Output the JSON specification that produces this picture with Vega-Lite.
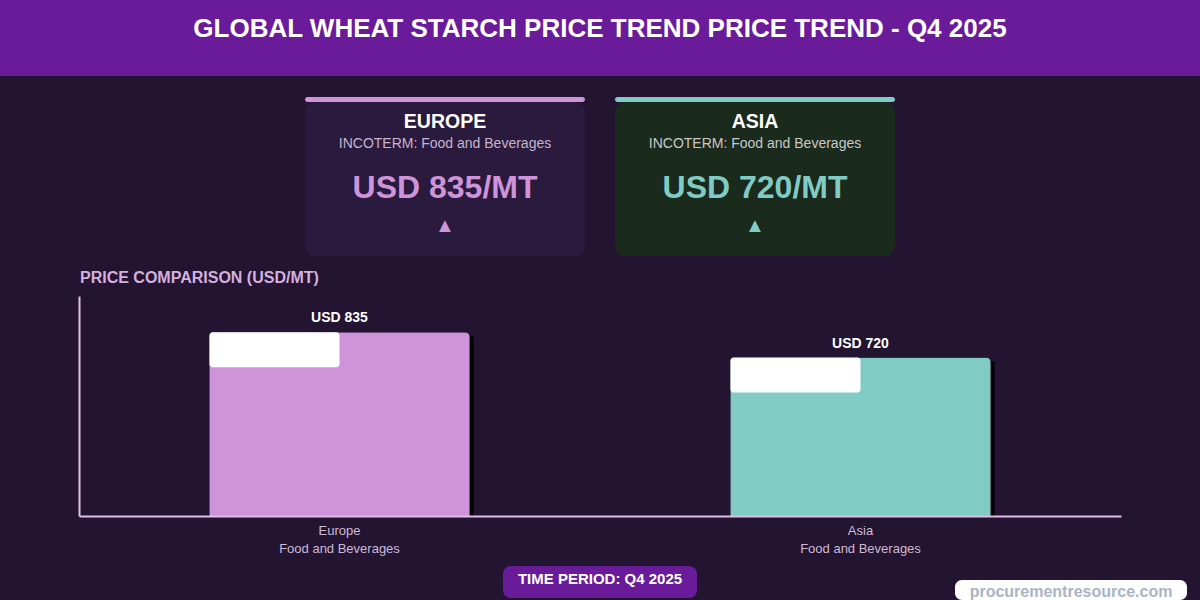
{
  "$schema": "https://vega.github.io/schema/vega-lite/v6.json",
  "padding": 0,
  "background": "#231431",
  "config": {"view": {"stroke": null}, "font": "Liberation Sans", "text": {"font": "Liberation Sans"}},
  "datasets": {
    "prices": [
      {"region": "Europe", "card_title": "EUROPE", "incoterm_text": "INCOTERM: Food and Beverages", "incoterm": "Food and Beverages", "price": 835, "label": "USD 835", "card_price": "USD 835/MT", "trend": "▲"},
      {"region": "Asia", "card_title": "ASIA", "incoterm_text": "INCOTERM: Food and Beverages", "incoterm": "Food and Beverages", "price": 720, "label": "USD 720", "card_price": "USD 720/MT", "trend": "▲"}
    ]
  },
  "vconcat": [
    {
      "width": 1200, "height": 76,
      "view": {"fill": "#6a1b9a", "stroke": null},
      "data": {"values": [{"title": "GLOBAL WHEAT STARCH PRICE TREND PRICE TREND - Q4 2025"}]},
      "mark": {"type": "text", "fontWeight": "bold", "fontSize": 26, "color": "#ffffff", "baseline": "middle", "dy": -9},
      "encoding": {"text": {"field": "title"}}
    },
    {"width": 1200, "height": 21, "data": {"values": [{}]}, "mark": {"type": "point", "opacity": 0, "size": 0}, "encoding": {}},
    {
      "hconcat": [
        {"width": 305, "height": 1, "data": {"values": [{}]}, "mark": {"type": "point", "opacity": 0, "size": 0}, "encoding": {}},
        {
          "vconcat": [
            {"width": 280, "height": 5, "view": {"fill": "#ce93d8", "cornerRadius": 2.5}, "data": {"values": [{}]}, "mark": {"type": "point", "opacity": 0, "size": 0}, "encoding": {}},
            {
              "width": 280, "height": 154,
              "view": {"fill": "#2a1a3e", "cornerRadius": 10},
              "data": {"name": "prices"},
              "transform": [{"filter": "datum.region === 'Europe'"}],
              "layer": [
                {"mark": {"type": "text", "fontWeight": "bold", "fontSize": 19.5, "color": "#ffffff", "baseline": "middle", "dy": -57}, "encoding": {"text": {"field": "card_title"}}},
                {"mark": {"type": "text", "fontSize": 14, "color": "#c6b4d0", "baseline": "middle", "dy": -35}, "encoding": {"text": {"field": "incoterm_text"}}},
                {"mark": {"type": "text", "fontWeight": "bold", "fontSize": 32, "color": "#ce93d8", "baseline": "middle", "dy": 9}, "encoding": {"text": {"field": "card_price"}}},
                {"mark": {"type": "text", "fontSize": 20, "color": "#ce93d8", "baseline": "middle", "dy": 47}, "encoding": {"text": {"field": "trend"}}}
              ]
            }
          ],
          "spacing": 0
        },
        {"width": 30, "height": 1, "data": {"values": [{}]}, "mark": {"type": "point", "opacity": 0, "size": 0}, "encoding": {}},
        {
          "vconcat": [
            {"width": 280, "height": 5, "view": {"fill": "#80cbc4", "cornerRadius": 2.5}, "data": {"values": [{}]}, "mark": {"type": "point", "opacity": 0, "size": 0}, "encoding": {}},
            {
              "width": 280, "height": 154,
              "view": {"fill": "#1a2a1d", "cornerRadius": 10},
              "data": {"name": "prices"},
              "transform": [{"filter": "datum.region === 'Asia'"}],
              "layer": [
                {"mark": {"type": "text", "fontWeight": "bold", "fontSize": 19.5, "color": "#ffffff", "baseline": "middle", "dy": -57}, "encoding": {"text": {"field": "card_title"}}},
                {"mark": {"type": "text", "fontSize": 14, "color": "#c8c8c8", "baseline": "middle", "dy": -35}, "encoding": {"text": {"field": "incoterm_text"}}},
                {"mark": {"type": "text", "fontWeight": "bold", "fontSize": 32, "color": "#80cbc4", "baseline": "middle", "dy": 9}, "encoding": {"text": {"field": "card_price"}}},
                {"mark": {"type": "text", "fontSize": 20, "color": "#80cbc4", "baseline": "middle", "dy": 47}, "encoding": {"text": {"field": "trend"}}}
              ]
            }
          ],
          "spacing": 0
        }
      ],
      "spacing": 0
    },
    {"width": 1200, "height": 14, "data": {"values": [{}]}, "mark": {"type": "point", "opacity": 0, "size": 0}, "encoding": {}},
    {
      "hconcat": [
        {"width": 79, "height": 1, "data": {"values": [{}]}, "mark": {"type": "point", "opacity": 0, "size": 0}, "encoding": {}},
        {
          "width": 1042, "height": 220,
          "data": {"name": "prices"},
          "title": {"text": "PRICE COMPARISON (USD/MT)", "anchor": "start", "frame": "group", "fontSize": 16, "fontWeight": "bold", "color": "#d3b1de", "font": "Liberation Sans", "baseline": "bottom", "offset": -6, "dx": 1},
          "encoding": {
            "x": {"field": "region", "type": "nominal", "sort": ["Europe", "Asia"],
                  "scale": {"paddingInner": 0.5, "paddingOuter": 0.25},
                  "axis": {"title": null, "domain": true, "domainColor": "#e1bee7", "domainWidth": 2, "ticks": false, "grid": false, "labelAngle": 0, "labelColor": "#cdbad6", "labelFont": "Liberation Sans", "labelFontSize": 13, "labelPadding": 8, "labelLineHeight": 18, "labelExpr": "[datum.label, 'Food and Beverages']", "zindex": 1}},
            "y": {"field": "price", "type": "quantitative", "scale": {"domain": [0, 1000]},
                  "axis": {"title": null, "labels": false, "ticks": false, "grid": false, "domain": true, "domainColor": "#e1bee7", "domainWidth": 2, "zindex": 1}}
          },
          "layer": [
            {"mark": {"type": "bar", "color": "#000000", "opacity": 0.95, "xOffset": 4, "yOffset": 4, "y2Offset": 4, "cornerRadiusTopLeft": 5, "cornerRadiusTopRight": 5}},
            {"mark": {"type": "bar", "cornerRadiusTopLeft": 5, "cornerRadiusTopRight": 5},
             "encoding": {"color": {"field": "region", "type": "nominal", "scale": {"domain": ["Europe", "Asia"], "range": ["#ce93d8", "#80cbc4"]}, "legend": null}}},
            {"mark": {"type": "bar", "color": "#ffffff", "width": 130, "xOffset": -65, "y2Offset": 35, "cornerRadius": 3},
             "encoding": {"y2": {"field": "price"}}},
            {"mark": {"type": "text", "fontWeight": "bold", "fontSize": 14, "color": "#ffffff", "baseline": "alphabetic", "dy": -10},
             "encoding": {"text": {"field": "label"}}}
          ]
        }
      ],
      "spacing": 0
    },
    {"width": 1200, "height": 11, "data": {"values": [{}]}, "mark": {"type": "point", "opacity": 0, "size": 0}, "encoding": {}},
    {
      "hconcat": [
        {"width": 503, "height": 1, "data": {"values": [{}]}, "mark": {"type": "point", "opacity": 0, "size": 0}, "encoding": {}},
        {
          "width": 194, "height": 32,
          "view": {"fill": "#6a1b9a", "cornerRadius": 8},
          "data": {"values": [{"t": "TIME PERIOD: Q4 2025"}]},
          "mark": {"type": "text", "fontWeight": "bold", "fontSize": 15, "color": "#ffffff", "baseline": "middle", "dy": -3},
          "encoding": {"text": {"field": "t"}}
        },
        {"width": 258, "height": 1, "data": {"values": [{}]}, "mark": {"type": "point", "opacity": 0, "size": 0}, "encoding": {}},
        {
          "vconcat": [
            {"width": 232, "height": 14, "data": {"values": [{}]}, "mark": {"type": "point", "opacity": 0, "size": 0}, "encoding": {}},
            {
              "width": 232, "height": 20,
              "view": {"fill": "#ffffff", "cornerRadius": 7},
              "data": {"values": [{"t": "procurementresource.com"}]},
              "mark": {"type": "text", "fontWeight": "bold", "fontSize": 16, "color": "#a9b4c4", "baseline": "middle", "dy": 2},
              "encoding": {"text": {"field": "t"}}
            }
          ],
          "spacing": 0
        }
      ],
      "spacing": 0
    }
  ],
  "spacing": 0
}
